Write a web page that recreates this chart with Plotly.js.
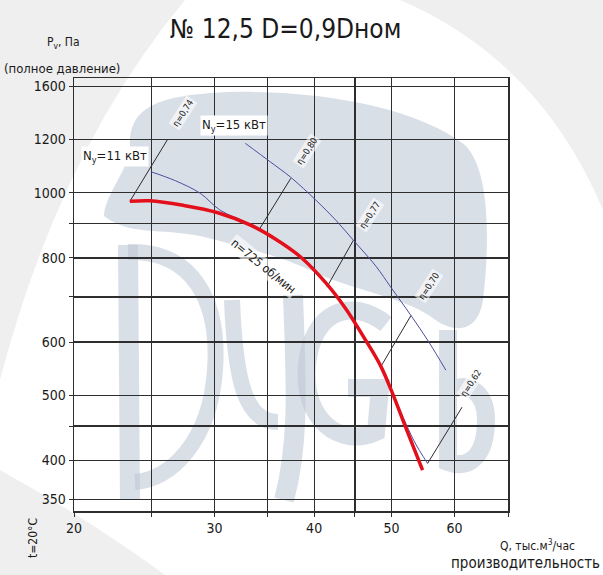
<!DOCTYPE html>
<html><head><meta charset="utf-8">
<script src="https://cdn.plot.ly/plotly-3.0.1.min.js"></script>
<style>body{margin:0;padding:0;background:#ffffff}#chart{width:603px;height:575px}</style>
</head><body><div id="chart"></div>
<script>
// Data (Q in тыс.м³/час, P in Па)
const Q_red = [23.5, 24.9, 27.4, 30.3, 33.3, 35.8, 38.5, 41.4, 43.8, 46.4, 48.5, 50.2, 52.1, 54.7];
const P_red = [971, 973, 958, 934, 895, 853, 802, 734, 673, 604, 552, 502, 448, 387];
const Q_11kW = [25.0, 26.8, 28.8, 30.5, 33.3, 35.8, 38.5, 41.4, 43.8, 46.4, 48.5, 50.2, 53.3, 55.5];
const P_11kW = [1074, 1042, 998, 942, 898, 856, 805, 736, 676, 606, 554, 504, 429, 396];
const Q_15kW = [32.8, 35.3, 37.4, 40.2, 42.6, 44.8, 47.8, 49.9, 52.9, 55.7, 58.5];
const P_15kW = [1184, 1110, 1054, 975, 910, 850, 778, 724, 657, 600, 545];
const eta_labels = ['η=0,74', 'η=0,80', 'η=0,77', 'η=0,70', 'η=0,62'];
const eta_Q = [[23.5, 26.2], [34.1, 37.4], [41.5, 44.8], [48.6, 52.9], [55.5, 61.3]];
const eta_P = [[971, 1200], [880, 1051], [724, 850], [554, 657], [396, 480]];
const x_tickvals = [20, 30, 40, 50, 60];
const x_ticktext = ['20', '30', '40', '50', '60'];
const x_gridvals = [25, 35, 45, 70];
const y_tickvals = [350, 400, 500, 600, 800, 1000, 1200, 1440];
const y_ticktext = ['350', '400', '500', '600', '800', '1000', '1200', '1600'];
const y_gridvals = [450, 700, 900];

const FONT = 'DejaVu Sans Condensed, Liberation Sans Narrow, Roboto, sans-serif';
const L = 74, R = 95, T = 78, B = 64, W = 603, H = 575;
const PW = W - L - R, PH = H - T - B;
function px(x) { return ((x - L) / PW).toFixed(4); }
function py(y) { return ((H - B - y) / PH).toFixed(4); }
function pp(x, y) { return {x: (x - L) / PW, y: (H - B - y) / PH, xref: 'paper', yref: 'paper', xanchor: 'center', yanchor: 'middle'}; }
function pathPx(cmds) {
  return cmds.map(c => typeof c === 'string' ? c : px(c[0]) + ',' + py(c[1])).join(' ');
}

const traces = [];
eta_Q.forEach((q, i) => {
  traces.push({x: q, y: eta_P[i], mode: 'lines', line: {color: '#2b2b2b', width: 1}, hoverinfo: 'skip', showlegend: false});
});
traces.push({x: Q_11kW, y: P_11kW, mode: 'lines', line: {color: '#4b4fa0', width: 1, shape: 'spline', smoothing: 1}, showlegend: false});
traces.push({x: Q_15kW, y: P_15kW, mode: 'lines', line: {color: '#4b4fa0', width: 1, shape: 'spline', smoothing: 1}, showlegend: false});
traces.push({x: Q_red, y: P_red, mode: 'lines', line: {color: '#e3101c', width: 3.5, shape: 'spline', smoothing: 1}, showlegend: false});

const TXT = '#1a1a1a';
const etaPos = [[183, 113], [307, 151], [370, 215], [429, 286], [471, 383]];
const annotations = [
  Object.assign(pp(285, 29), {text: '№ 12,5 D=0,9Dном', showarrow: false, font: {family: FONT, size: 26, color: TXT}}),
  Object.assign(pp(63, 43), {text: 'P<sub>v</sub>, Па', showarrow: false, font: {family: FONT, size: 12, color: TXT}}),
  Object.assign(pp(62, 68), {text: '(полное давление)', showarrow: false, font: {family: FONT, size: 13, color: TXT}}),
  Object.assign(pp(33, 538), {text: 't=20°C', textangle: -90, showarrow: false, font: {family: FONT, size: 12, color: TXT}}),
  Object.assign(pp(537, 545), {text: 'Q, тыс.м<sup>3</sup>/час', showarrow: false, font: {family: FONT, size: 12, color: TXT}}),
  Object.assign(pp(525, 563), {text: 'производительность', showarrow: false, font: {family: FONT, size: 15, color: TXT}}),
  Object.assign(pp(115, 156), {text: 'N<sub>у</sub>=11 кВт', showarrow: false, bgcolor: '#ffffff', font: {family: FONT, size: 13, color: TXT}}),
  Object.assign(pp(234, 125), {text: 'N<sub>у</sub>=15 кВт', showarrow: false, bgcolor: '#ffffff', font: {family: FONT, size: 13, color: TXT}}),
  Object.assign(pp(263, 266), {text: 'n=725 об/мин', textangle: 39, showarrow: false, bgcolor: 'rgba(255,255,255,0.6)', font: {family: FONT, size: 12, color: TXT}})
];
eta_labels.forEach((t, i) => {
  annotations.push(Object.assign(pp(etaPos[i][0], etaPos[i][1]), {text: t, textangle: -57, showarrow: false, bgcolor: 'rgba(255,255,255,0.6)', font: {family: FONT, size: 9, color: TXT}}));
});

const GREY = '#efefef';
const WM = 'rgba(185,196,212,0.55)';
function fillShape(cmds) { return {type: 'path', xref: 'paper', yref: 'paper', layer: 'below', fillcolor: WM, line: {width: 0}, path: pathPx(cmds)}; }
function strokeShape(cmds, w) { return {type: 'path', xref: 'paper', yref: 'paper', layer: 'below', line: {color: WM, width: w}, path: pathPx(cmds)}; }
const shapes = [
  // page swooshes
  {type: 'path', xref: 'paper', yref: 'paper', layer: 'below', fillcolor: GREY, line: {width: 0},
   path: pathPx(['M', [0, 0], 'L', [185, 0], 'Q', [60, 150], [0, 380], 'Z'])},
  {type: 'path', xref: 'paper', yref: 'paper', layer: 'below', fillcolor: GREY, line: {width: 0},
   path: pathPx(['M', [400, 0], 'L', [603, 0], 'L', [603, 210], 'Q', [540, 60], [400, 0], 'Z'])},
  {type: 'path', xref: 'paper', yref: 'paper', layer: 'below', fillcolor: GREY, line: {width: 0},
   path: pathPx(['M', [0, 470], 'Q', [90, 520], [165, 575], 'L', [0, 575], 'Z'])},
  // watermark cap
  fillShape(['M', [104, 216], 'C', [105, 195], [125, 175], [130, 150], 'C', [128, 110], [150, 95], [230, 92],
    'C', [330, 90], [420, 110], [465, 145], 'C', [490, 170], [490, 240], [483, 300],
    'C', [478, 332], [455, 336], [430, 316], 'C', [400, 296], [350, 290], [310, 270],
    'C', [280, 256], [240, 246], [200, 236], 'C', [160, 228], [130, 236], [104, 216], 'Z']),
  // watermark letters
  strokeShape(['M', [128, 245], 'L', [130, 500]], 20),
  strokeShape(['M', [128, 252], 'C', [192, 250], [220, 300], [215, 370], 'C', [210, 442], [170, 480], [135, 482]], 16),
  strokeShape(['M', [232, 300], 'C', [235, 380], [245, 422], [278, 422]], 16),
  strokeShape(['M', [293, 295], 'C', [296, 380], [300, 440], [284, 500]], 20),
  strokeShape(['M', [386, 324], 'C', [350, 296], [312, 312], [307, 365], 'C', [302, 420], [340, 448], [376, 432], 'L', [380, 388], 'L', [348, 388]], 18),
  strokeShape(['M', [448, 330], 'L', [448, 462], 'C', [470, 470], [486, 455], [486, 420], 'C', [486, 390], [465, 380], [448, 392]], 18)
];

const GRID = '#2e2e2e';
function axisBase() {
  return {type: 'log', tickmode: 'array', showgrid: true, gridcolor: GRID, gridwidth: 1.2, zeroline: false,
    showline: true, mirror: true, linecolor: GRID, linewidth: 1.5,
    ticks: 'outside', ticklen: 4, tickcolor: GRID, tickfont: {family: FONT, size: 14, color: TXT}};
}
const xaxis = Object.assign(axisBase(), {range: [Math.log10(20), Math.log10(70)], tickvals: x_tickvals, ticktext: x_ticktext,
  minor: {tickmode: 'array', tickvals: x_gridvals, showgrid: true, gridcolor: GRID, gridwidth: 1.2, ticks: 'outside', ticklen: 4, tickcolor: GRID}});
const yaxis = Object.assign(axisBase(), {range: [Math.log10(336.5), Math.log10(1481)], tickvals: y_tickvals, ticktext: y_ticktext,
  minor: {tickmode: 'array', tickvals: y_gridvals, showgrid: true, gridcolor: GRID, gridwidth: 1.2, ticks: 'outside', ticklen: 4, tickcolor: GRID}});

const layout = {
  width: W, height: H,
  margin: {l: L, r: R, t: T, b: B, pad: 0},
  paper_bgcolor: '#ffffff', plot_bgcolor: 'rgba(0,0,0,0)',
  showlegend: false, xaxis: xaxis, yaxis: yaxis,
  annotations: annotations, shapes: shapes
};
Plotly.newPlot('chart', traces, layout, {displayModeBar: false, staticPlot: true});
</script></body></html>
